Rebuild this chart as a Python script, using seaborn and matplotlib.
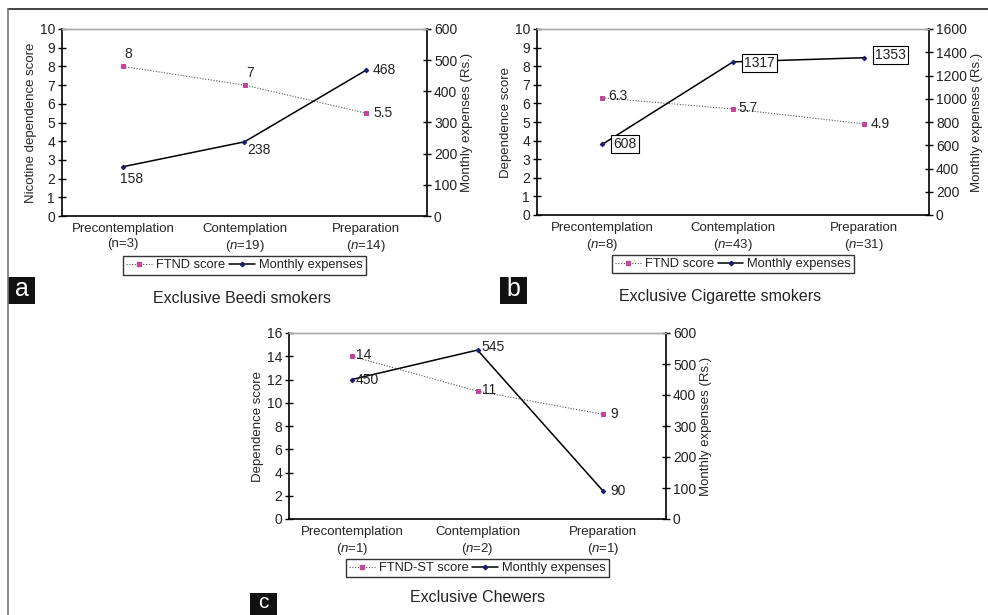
import matplotlib
matplotlib.use("Agg")
import matplotlib.pyplot as plt  # noqa: E402
import seaborn as sns  # noqa: E402
import pandas as pd  # noqa: E402
from matplotlib.lines import Line2D  # noqa: E402
from matplotlib.patches import Rectangle  # noqa: E402

# Datos de cada panel
stages = ["Precontemplation", "Contemplation", "Preparation"]

a_n = ["(n=3)", "($\\it{n}$=19)", "($\\it{n}$=14)"]
a_score = [8, 7, 5.5]
a_exp = [158, 238, 468]

b_n = ["($\\it{n}$=8)", "($\\it{n}$=43)", "($\\it{n}$=31)"]
b_score = [6.3, 5.7, 4.9]
b_exp = [608, 1317, 1353]

c_n = ["($\\it{n}$=1)", "($\\it{n}$=2)", "($\\it{n}$=1)"]
c_score = [14, 11, 9]
c_exp = [450, 545, 90]

PINK = "#c0479b"
NAVY = "#1c1c6e"
W, H = 988, 615
FS = 10

sns.set_style("white")
plt.rcParams["font.family"] = ["Liberation Sans", "DejaVu Sans"]
plt.rcParams["mathtext.fontset"] = "custom"
plt.rcParams["mathtext.it"] = "Liberation Sans:italic"
plt.rcParams["mathtext.rm"] = "Liberation Sans"
plt.rcParams["text.color"] = "#222222"

fig = plt.figure(figsize=(W / 100, H / 100), dpi=100)


def px_axes(x0, y0, x1, y1):
    # caja en píxeles (origen arriba-izquierda) -> coords de figura
    return fig.add_axes([x0 / W, 1 - y1 / H, (x1 - x0) / W, (y1 - y0) / H])


def panel(box, ns, score, exp, ylim_l, step_l, ylim_r, step_r, ylabel,
          score_name, score_pos, exp_pos, boxed=False):
    ax = px_axes(*box)
    labels = [f"{s}\n{n}" for s, n in zip(stages, ns)]
    df = pd.DataFrame({"stage": labels, "score": score, "exp": exp})
    sns.lineplot(data=df, x="stage", y="score", ax=ax, color="#555555",
                 lw=0.8, ls=(0, (1, 1.5)), marker="s", ms=3.2, mfc=PINK,
                 mec=PINK, sort=False)
    ax2 = ax.twinx()
    sns.lineplot(data=df, x="stage", y="exp", ax=ax2, color="black", lw=1.1,
                 marker="D", ms=2.3, mfc=NAVY, mec=NAVY, sort=False)
    ax.set_xlim(-0.5, 2.5)
    ax.set_ylim(0, ylim_l)
    ax.set_yticks(range(0, ylim_l + 1, step_l))
    ax2.set_ylim(0, ylim_r)
    ax2.set_yticks(range(0, ylim_r + 1, step_r))
    # ticks de x en los límites entre categorías
    ax.set_xticks([0.5, 1.5], minor=False)
    ax.set_xticklabels([])
    ax.set_xticks([0, 1, 2], minor=True)
    ax.set_xticklabels(labels, minor=True, fontsize=FS - 0.5, linespacing=1.3)
    ax.tick_params(axis="x", which="minor", length=0, pad=5)
    ax.tick_params(axis="x", which="major", direction="inout", length=6,
                   width=1.1, color="black")
    for a_ in (ax, ax2):
        a_.tick_params(axis="y", direction="inout", length=6, width=1.0,
                       labelsize=FS, pad=2, color="black",
                       labelcolor="#222222")
    ax.set_xlabel("")
    ax.set_ylabel(ylabel, fontsize=FS - 0.5, labelpad=2)
    ax2.set_ylabel("Monthly expenses (Rs.)", fontsize=FS - 0.5, labelpad=3)
    for a_ in (ax, ax2):
        for side in ("left", "bottom", "right"):
            a_.spines[side].set_color("black")
            a_.spines[side].set_linewidth(1.2)
        a_.spines["top"].set_color("#aaaaaa")
        a_.spines["top"].set_linewidth(1.0)
    ax.spines["right"].set_visible(False)
    ax2.spines["left"].set_visible(False)
    ax2.spines["bottom"].set_visible(False)

    for i, v in enumerate(score):
        dx, dy, ha, va = score_pos[i]
        ax.annotate(f"{v:g}", (i, v), xytext=(dx, dy),
                    textcoords="offset points", ha=ha, va=va, fontsize=FS)
    for i, v in enumerate(exp):
        dx, dy, ha, va = exp_pos[i]
        kw = {}
        if boxed:
            kw["bbox"] = dict(boxstyle="square,pad=0.15", fc="white",
                              ec="black", lw=0.8)
        ax2.annotate(f"{v:g}", (i, v), xytext=(dx, dy),
                     textcoords="offset points", ha=ha, va=va,
                     fontsize=FS, **kw)

    handles = [
        Line2D([], [], color="#555555", lw=0.8, ls=(0, (1, 1.5)), marker="s",
               ms=3.2, mfc=PINK, mec=PINK),
        Line2D([], [], color="black", lw=1.1, marker="D", ms=2.3, mfc=NAVY,
               mec=NAVY),
    ]
    leg = ax.legend(handles, [score_name, "Monthly expenses"], ncol=2,
                    loc="upper center", bbox_to_anchor=(0.5, -0.215),
                    fontsize=FS - 0.7, frameon=True, fancybox=False,
                    edgecolor="black", handlelength=2.0, handletextpad=0.3,
                    columnspacing=0.3, borderpad=0.25, borderaxespad=0)
    leg.get_frame().set_linewidth(1.0)
    return ax


right = (5, 0, "left", "center")
panel((62, 29, 427, 216), a_n, a_score, a_exp, 10, 1, 600, 100,
      "Nicotine dependence score", "FTND score",
      [(1, 4, "left", "bottom"), (1, 4, "left", "bottom"), right],
      [(-2, -4, "left", "top"), (2, -1, "left", "top"), right])
panel((537, 29, 929, 215), b_n, b_score, b_exp, 10, 1, 1600, 200,
      "Dependence score", "FTND score",
      [(4, 1, "left", "center"), (4, 1, "left", "center"), right],
      [(8, 0, "left", "center"), (8, -1, "left", "center"),
       (8, 2, "left", "center")], boxed=True)
panel((289, 333, 666, 519), c_n, c_score, c_exp, 16, 2, 600, 100,
      "Dependence score", "FTND-ST score",
      [(3, 1, "left", "center"), (3, 1, "left", "center"), right],
      [(3, 0, "left", "center"), (3, 2, "left", "center"), right])

# Títulos de panel
for x, y, t in [(242, 298, "Exclusive Beedi smokers"),
                (720, 297, "Exclusive Cigarette smokers"),
                (478, 598, "Exclusive Chewers")]:
    fig.text(x / W, 1 - y / H, t, ha="center", va="center", fontsize=11.5,
             color="#222222")

# Letras de panel en cajas negras (la "c" queda cortada abajo, como en el original)
for x0, y0, x1, y1, ty, fs, t in [(8, 277, 35, 304, 289.5, 18, "a"),
                                  (500, 277, 527, 304, 289.5, 18, "b"),
                                  (250, 593, 277, 620, 603, 15, "c")]:
    fig.add_artist(Rectangle((x0 / W, 1 - y1 / H), (x1 - x0) / W,
                             (y1 - y0) / H, transform=fig.transFigure,
                             fc="#111111", ec="none"))
    fig.text((x0 + x1) / 2 / W, 1 - ty / H, t, ha="center",
             va="center", fontsize=fs, color="white")

# Marco exterior (arriba e izquierda)
fig.add_artist(Line2D([8 / W, 1], [1 - 9 / H, 1 - 9 / H], color="#222222",
                      lw=1.2, transform=fig.transFigure))
fig.add_artist(Line2D([8 / W, 8 / W], [0, 1 - 9 / H], color="#777777",
                      lw=1.2, transform=fig.transFigure))

fig.savefig("out.png", dpi=100)
